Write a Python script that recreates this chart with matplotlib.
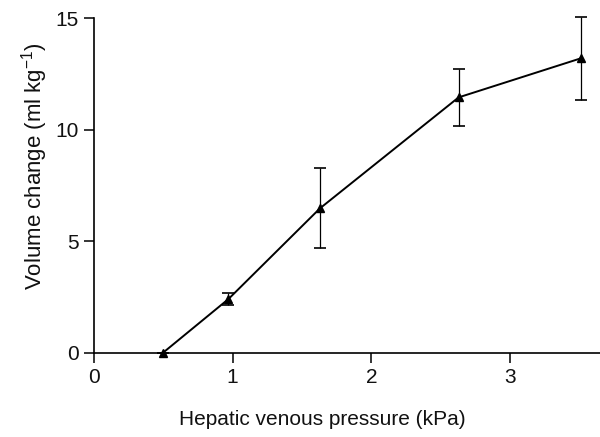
import matplotlib
matplotlib.use("Agg")
import matplotlib.pyplot as plt

pressure = [0.50, 0.97, 1.63, 2.63, 3.51]
volume = [0.0, 2.40, 6.47, 11.45, 13.2]
sem = [0.0, 0.25, 1.80, 1.28, 1.88]
xticks = [0, 1, 2, 3]
yticks = [0, 5, 10, 15]

plt.rcParams['font.family'] = ['Liberation Sans', 'DejaVu Sans']
plt.rcParams['mathtext.fontset'] = 'custom'
plt.rcParams['mathtext.rm'] = 'Liberation Sans'
plt.rcParams['mathtext.it'] = 'Liberation Sans'
plt.rcParams['mathtext.default'] = 'regular'
fig = plt.figure(figsize=(6.0, 4.37), dpi=100)
ax = fig.add_axes([94/600, 1-352.5/437, 1-94/600, (352.5-18.3)/437])

ax.errorbar(pressure, volume, yerr=sem, color='black', lw=1.4,
            marker='^', ms=6, ecolor='black', elinewidth=0.9,
            capsize=4.5, capthick=1.2, clip_on=False)

ax.set_xlim(0, 3.65)
ax.set_ylim(0, 15)
ax.set_xticks(xticks)
ax.set_yticks(yticks)
for s in ['top', 'right']:
    ax.spines[s].set_visible(False)
for s in ['left', 'bottom']:
    ax.spines[s].set_linewidth(1.2)
ax.tick_params(direction='out', length=7, width=1.1, labelsize=15, pad=4,
               labelcolor='#111111')
ax.set_xlabel('Hepatic venous pressure (kPa)', fontsize=15, color='#111111')
ax.set_ylabel('Volume change (ml kg$^{-1}$)', fontsize=16, color='#111111')
ax.xaxis.set_label_coords((322-94)/506, -(410-352.5)/334.2)
ax.yaxis.set_label_coords(-(94-50)/506, (352.5-166)/334.2)

fig.savefig('out.png', dpi=100)
